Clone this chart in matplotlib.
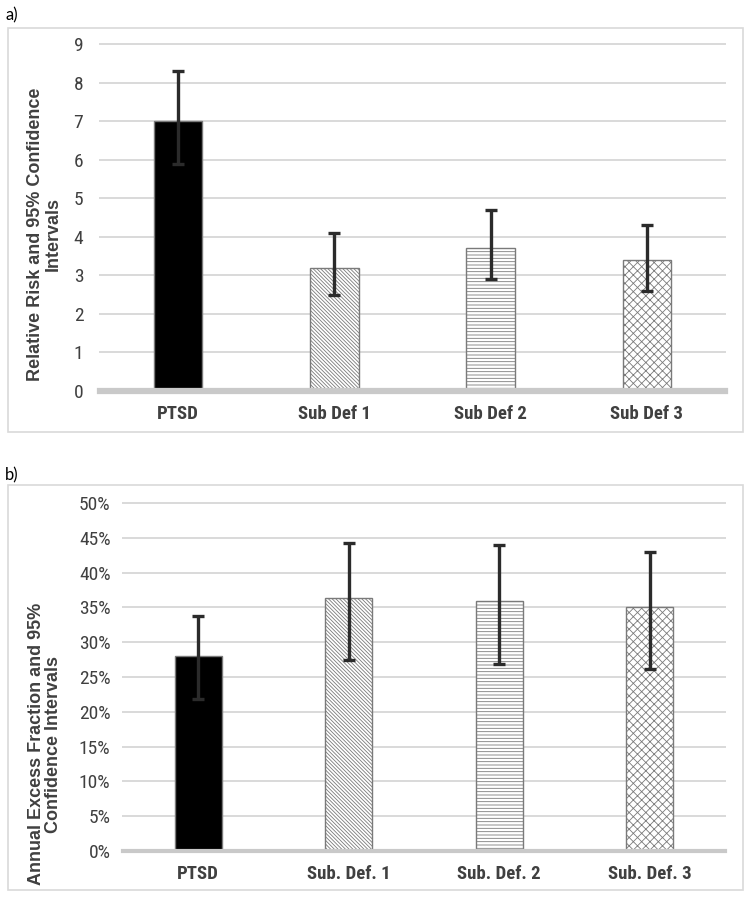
import matplotlib.pyplot as plt
from matplotlib.patches import Rectangle
from matplotlib.ticker import PercentFormatter

# data panel a
cats_a = ["PTSD", "Sub Def 1", "Sub Def 2", "Sub Def 3"]
rr = [7.0, 3.2, 3.7, 3.4]
rr_lo = [5.9, 2.5, 2.9, 2.6]
rr_hi = [8.3, 4.1, 4.7, 4.3]

# data panel b
cats_b = ["PTSD", "Sub. Def. 1", "Sub. Def. 2", "Sub. Def. 3"]
aef = [28.0, 36.4, 35.9, 35.0]
aef_lo = [21.8, 27.4, 26.9, 26.1]
aef_hi = [33.8, 44.2, 43.9, 42.9]

narrow = "Roboto Condensed"

plt.rcParams['hatch.linewidth'] = 0.6
fills = ['black', 'white', 'white', 'white']
hatches = [None, '\\' * 9, '-----', 'xxxx']
W, H = 750, 899

fig = plt.figure(figsize=(7.5, 8.99), dpi=100)


def px_axes(left, top, right, bottom):
    return fig.add_axes([left / W, 1 - bottom / H, (right - left) / W, (bottom - top) / H])


def draw_panel(ax, cats, vals, lo, hi, ymax, step, pct, ylabel, label_x, label_y, ypad, base_lw):
    x = range(len(cats))
    yerr = [[v - l for v, l in zip(vals, lo)], [h - v for v, h in zip(vals, hi)]]
    for i in x:
        ax.bar(i, vals[i], width=0.31, color=fills[i], edgecolor='#7a7a7a',
               hatch=hatches[i], linewidth=1.0, zorder=2)
    ax.errorbar(list(x), vals, yerr=yerr, fmt='none', ecolor='#2b2b2b',
                elinewidth=2.4, capsize=4, capthick=2.4, zorder=4)
    ax.set_xlim(-0.5, len(cats) - 0.5)
    ax.set_ylim(0, ymax)
    ax.set_yticks([step * k for k in range(int(round(ymax / step)) + 1)])
    if pct:
        ax.yaxis.set_major_formatter(PercentFormatter(decimals=0))
    ax.yaxis.grid(True, color='#d9d9d9', linewidth=1.4, zorder=0)
    for gl in ax.get_ygridlines():
        gl.set_clip_on(False)
    ax.set_axisbelow(True)
    ax.axhline(0, color='#c9c9c9', linewidth=base_lw, zorder=3, clip_on=False)
    for s in ax.spines.values():
        s.set_visible(False)
    ax.tick_params(axis='both', length=0)
    ax.tick_params(axis='y', pad=ypad, labelsize=14, labelcolor='#404040')
    ax.tick_params(axis='x', pad=10, labelsize=13.5, labelcolor='#404040')
    for t in ax.get_yticklabels():
        t.set_fontfamily(narrow)
    ax.set_xticks(list(x))
    ax.set_xticklabels(cats, fontfamily=narrow, fontweight='bold')
    ax.set_ylabel(ylabel, fontsize=13, fontweight='bold', color='#404040',
                  fontfamily='Liberation Sans', linespacing=1.05)
    ax.yaxis.set_label_coords(label_x, label_y)


ax1 = px_axes(100, 44, 725, 391)
draw_panel(ax1, cats_a, rr, rr_lo, rr_hi, 9, 1, False,
           "Relative Risk and 95% Confidence\nIntervals", -0.061, 0.452, 12, 4.5)

ax2 = px_axes(123, 503, 725, 851)
draw_panel(ax2, cats_b, aef, aef_lo, aef_hi, 50, 5, True,
           "Annual Excess Fraction and 95%\nConfidence Intervals", -0.101, 0.307, 9, 3)

# chart area borders
for top, bottom in [(28, 432), (485, 890)]:
    fig.patches.append(Rectangle((8 / W, 1 - bottom / H), 735 / W, (bottom - top) / H,
                                 transform=fig.transFigure, fill=False,
                                 edgecolor='#d9d9d9', linewidth=1.2))

fig.text(5 / W, 1 - 15 / H, "a)", fontsize=12, fontfamily='Lato', va='center', ha='left')
fig.text(5 / W, 1 - 475 / H, "b)", fontsize=12, fontfamily='Lato', va='center', ha='left')

fig.savefig("out.png", dpi=100)
